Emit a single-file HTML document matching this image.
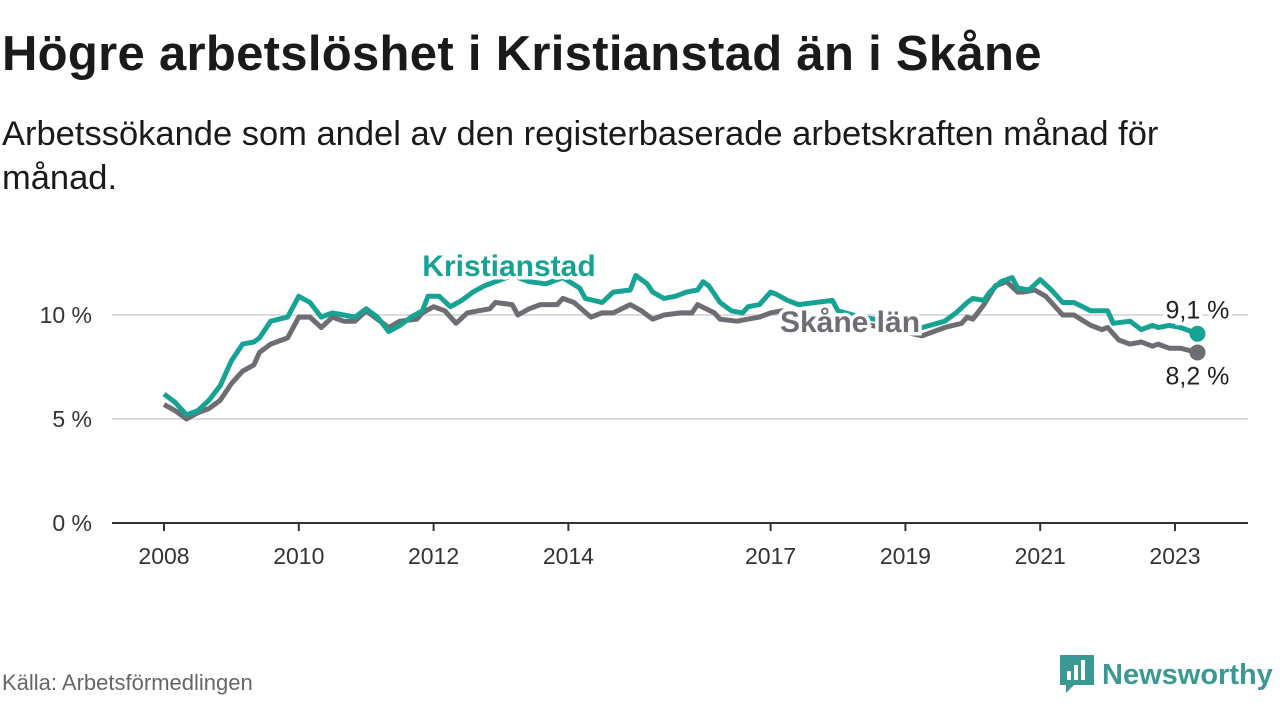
<!DOCTYPE html>
<html><head><meta charset="utf-8">
<style>
body{margin:0;width:1280px;height:720px;background:#fff;font-family:"Liberation Sans","DejaVu Sans",sans-serif;overflow:hidden;position:relative;color:#111}
h1{position:absolute;left:2px;top:26px;margin:0;font-size:49px;font-weight:bold;color:#1a1a1a;letter-spacing:0.3px}
.sub{position:absolute;left:2px;top:112px;margin:0;font-size:34.5px;line-height:44px;color:#1a1a1a;width:1200px}
.src{position:absolute;left:2px;top:670px;font-size:22px;color:#666}
.logo{position:absolute;left:1060px;top:655px;display:flex;align-items:center}
.logo span{font-size:29px;font-weight:bold;color:#3a9a93;margin-left:8px}
</style></head><body>
<h1>Högre arbetslöshet i Kristianstad än i Skåne</h1>
<p class="sub">Arbetssökande som andel av den registerbaserade arbetskraften månad för månad.</p>
<svg id="chart" width="1280" height="720" style="position:absolute;left:0;top:0" xmlns="http://www.w3.org/2000/svg"></svg>
<div class="src">Källa: Arbetsförmedlingen</div>
<div class="logo">
<svg width="34" height="40" viewBox="0 0 34 40"><path d="M0 0H34V30H14L6 38V30H0Z" fill="#3a9a93"/><rect x="7" y="16" width="4" height="9" fill="#fff"/><rect x="14" y="10" width="4" height="15" fill="#fff"/><rect x="21" y="5" width="4" height="20" fill="#fff"/></svg>
<span>Newsworthy</span></div>
<script>
const tickYears=[2008,2010,2012,2014,2017,2019,2021,2023];
const yTicks=[0,5,10];
const kMonths=[0,2,4,6,8,10,12,14,16,17,19,22,24,26,28,30,32,34,36,38,40,42,44,46,47,49,51,53,55,57,62,65,68,71,74,75,78,80,83,84,86,87,89,91,93,95,96,97,99,101,103,104,106,108,109,111,113,119,120,124,129,135,139,141,143,144,146,147,149,151,152,154,156,158,160,162,165,168,169,172,174,176,177,179,181,184];
const kValues=[6.2,5.8,5.2,5.4,5.9,6.6,7.8,8.6,8.7,8.9,9.7,9.9,10.9,10.6,9.9,10.1,10.0,9.9,10.3,9.9,9.2,9.5,9.9,10.2,10.9,10.9,10.4,10.7,11.1,11.4,11.9,11.6,11.5,11.8,11.3,10.8,10.6,11.1,11.2,11.9,11.5,11.1,10.8,10.9,11.1,11.2,11.6,11.4,10.6,10.2,10.1,10.4,10.5,11.1,11.0,10.7,10.5,10.7,10.2,9.9,9.7,9.4,9.7,10.1,10.6,10.8,10.7,11.1,11.6,11.8,11.3,11.2,11.7,11.2,10.6,10.6,10.2,10.2,9.6,9.7,9.3,9.5,9.4,9.5,9.4,9.1];
const sMonths=[0,2,4,6,8,10,12,14,16,17,19,22,24,26,28,30,32,34,36,38,40,42,45,46,48,50,52,54,56,58,59,62,63,65,67,70,71,73,76,78,80,83,85,87,89,92,94,95,98,99,102,106,108,110,117,126,135,139,142,143,144,146,148,150,152,153,155,157,160,162,165,167,168,170,172,174,176,177,179,181,184];
const sValues=[5.7,5.4,5.0,5.3,5.5,5.9,6.7,7.3,7.6,8.2,8.6,8.9,9.9,9.9,9.4,9.9,9.7,9.7,10.2,9.8,9.4,9.7,9.8,10.1,10.4,10.2,9.6,10.1,10.2,10.3,10.6,10.5,10.0,10.3,10.5,10.5,10.8,10.6,9.9,10.1,10.1,10.5,10.2,9.8,10.0,10.1,10.1,10.5,10.1,9.8,9.7,9.9,10.1,10.2,9.9,9.5,9.0,9.4,9.6,9.9,9.8,10.5,11.4,11.6,11.1,11.1,11.2,10.9,10.0,10.0,9.5,9.3,9.4,8.8,8.6,8.7,8.5,8.6,8.4,8.4,8.2];
const NS='http://www.w3.org/2000/svg';
const svg=document.getElementById('chart');
const xS=m=>164+m*67.4/12;
const xY=y=>xS((y-2008)*12);
const yS=v=>523-v*20.8;
function mk(t,a){const e=document.createElementNS(NS,t);for(const k in a)e.setAttribute(k,a[k]);svg.appendChild(e);return e;}
yTicks.forEach(v=>{
 if(v>0){const g=mk('line',{x1:112,x2:1248,y1:yS(v),y2:yS(v),stroke:'#dcdcdc','stroke-width':2});
 
 }
 const t=mk('text',{x:92,y:yS(v)+8,'text-anchor':'end','font-size':23,fill:'#333'});
 t.textContent=v+' %';
 
 
});
const ax=mk('line',{x1:112,x2:1248,y1:523,y2:523,stroke:'#333','stroke-width':2});


tickYears.forEach(y=>{
 const x=xY(y);
 const tk=mk('line',{x1:x,x2:x,y1:523,y2:531,stroke:'#333','stroke-width':2});
 
 
 const t=mk('text',{x:x,y:564,'text-anchor':'middle','font-size':23,fill:'#333'});
 t.textContent=y;
 
 
});
function line(ms,vs,col,name){
 const d=ms.map((m,i)=>(i?'L':'M')+xS(m).toFixed(1)+' '+yS(vs[i]).toFixed(1)).join(' ');
 const p=mk('path',{d:d,fill:'none',stroke:col,'stroke-width':5,'stroke-linejoin':'round'});
 
 
 const n=ms.length-1;
 const c=mk('circle',{cx:xS(ms[n]),cy:yS(vs[n]),r:8,fill:col});
 
 
}
line(sMonths,sValues,'#6e6d73','skane');
line(kMonths,kValues,'#17a394','kristianstad');
function lab(txt,x,y,col,bold,name,fs){
 const t=mk('text',{x:x,y:y,'text-anchor':'middle','font-size':fs,'font-weight':bold?'bold':'normal',fill:col,stroke:'#fff','stroke-width':7,'paint-order':'stroke'});
 t.textContent=txt;
 
 
}
lab('Kristianstad',509,276,'#17a394',true,'kristianstad-label',30);
lab('Skåne län',850,332,'#6e6d73',true,'skane-label',30);
const nk=kValues.length-1, ns=sValues.length-1;
lab(kValues[nk].toFixed(1).replace('.',',')+' %',xS(kMonths[nk]),yS(kValues[nk])-15,'#222',false,'kristianstad-end-value',25);
lab(sValues[ns].toFixed(1).replace('.',',')+' %',xS(sMonths[ns]),yS(sValues[ns])+32,'#222',false,'skane-end-value',25);
</script>
</body></html>
